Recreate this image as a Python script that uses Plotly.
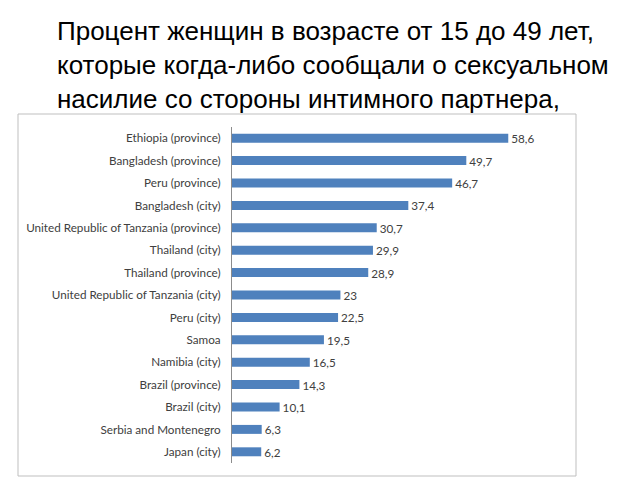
import plotly.graph_objects as go

# values
places = [
    "Ethiopia (province)",
    "Bangladesh (province)",
    "Peru (province)",
    "Bangladesh (city)",
    "United Republic of Tanzania (province)",
    "Thailand (city)",
    "Thailand (province)",
    "United Republic of Tanzania (city)",
    "Peru (city)",
    "Samoa",
    "Namibia (city)",
    "Brazil (province)",
    "Brazil (city)",
    "Serbia and Montenegro",
    "Japan (city)",
]
percent = [58.6, 49.7, 46.7, 37.4, 30.7, 29.9, 28.9, 23, 22.5, 19.5, 16.5, 14.3, 10.1, 6.3, 6.2]

title_lines = [
    "Процент женщин в возрасте от 15 до 49 лет,",
    "которые когда-либо сообщали о сексуальном",
    "насилие со стороны интимного партнера,",
]

# numbers with a decimal comma, as in the original
labels = [f"{v:g}".replace(".", ",") for v in percent]

# the page body has an 8px margin, so the figure is a bit smaller than the window
W, H = 632, 472
L, R, T, B = 224, 78, 119, 17
pw, ph = W - L - R, H - T - B


def px_x(x):
    return (x - L) / pw


def px_y(y):
    return (H - B - y) / ph


fig = go.Figure(
    go.Bar(
        x=percent,
        y=places,
        orientation="h",
        marker=dict(color="#4F81BD", line=dict(width=0)),
        text=labels,
        textposition="outside",
        constraintext="none",
        textfont=dict(family="Lato", size=11.7, color="#404040"),
        cliponaxis=False,
        width=0.4,
    )
)

# chart frame around the plot
fig.add_shape(
    type="rect",
    xref="paper", yref="paper",
    x0=px_x(10), x1=px_x(568), y0=px_y(468), y1=px_y(106),
    line=dict(color="#BFBFBF", width=1),
    fillcolor="rgba(0,0,0,0)",
    layer="below",
)

fig.update_layout(
    width=W,
    height=H,
    margin=dict(l=L, r=R, t=T, b=B),
    paper_bgcolor="white",
    plot_bgcolor="white",
    showlegend=False,
    title=dict(
        text="<br>".join(title_lines),
        x=49 / W,
        xanchor="left",
        xref="container",
        y=1 - 32 / H,
        yanchor="top",
        yref="container",
        font=dict(family="Liberation Sans", size=26, color="black"),
    ),
    xaxis=dict(range=[0, 70], visible=False),
    yaxis=dict(
        autorange="reversed",
        showline=True,
        linecolor="#8C8C8C",
        linewidth=1,
        ticks="",
        showgrid=False,
        ticklabelstandoff=8,
        tickfont=dict(family="Lato", size=11.7, color="#404040"),
    ),
)

fig.write_html("out.html")
